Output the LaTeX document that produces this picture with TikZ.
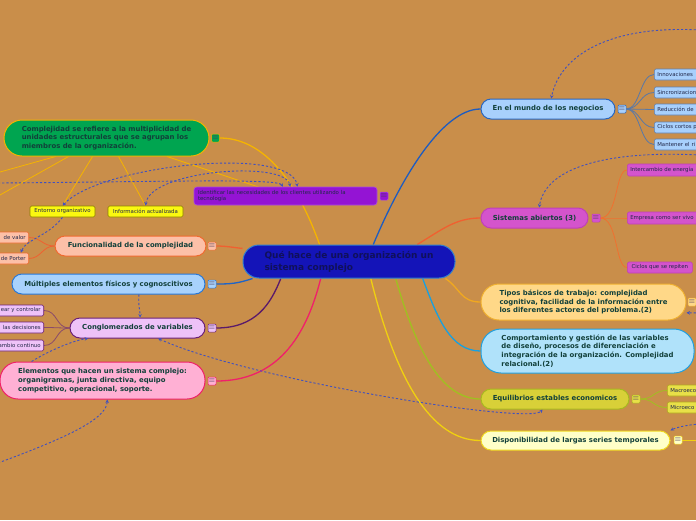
\documentclass[tikz,border=0pt]{standalone}
\usepackage{fontspec}
\setmainfont{DejaVu Sans}
\usetikzlibrary{arrows.meta}
\pgfdeclarelayer{bgl}
\pgfdeclarelayer{lnl}
\pgfsetlayers{bgl,lnl,main}
\definecolor{bg}{HTML}{C98E4A}
\definecolor{txt}{HTML}{12403A}
\definecolor{stxt}{HTML}{22284A}
\definecolor{ctxt}{HTML}{10105A}
\definecolor{icontxt}{HTML}{4A3A5A}
\definecolor{cF}{HTML}{1414B8}
\definecolor{cD}{HTML}{2F7FD0}
\definecolor{gF}{HTML}{00A550}
\definecolor{gD}{HTML}{F2B400}
\definecolor{gL}{HTML}{F5B400}
\definecolor{yF}{HTML}{FAF810}
\definecolor{yD}{HTML}{8C8000}
\definecolor{pF}{HTML}{9414D4}
\definecolor{pD}{HTML}{A848E0}
\definecolor{fnF}{HTML}{FCC0A8}
\definecolor{fnD}{HTML}{F06A30}
\definecolor{fnL}{HTML}{F06030}
\definecolor{muF}{HTML}{A8D2FC}
\definecolor{muD}{HTML}{2878D8}
\definecolor{muL}{HTML}{1E64C8}
\definecolor{coF}{HTML}{EEC2F8}
\definecolor{coD}{HTML}{6A2078}
\definecolor{coL}{HTML}{5A1A6A}
\definecolor{coC}{HTML}{8A4A6A}
\definecolor{elF}{HTML}{FFB0D4}
\definecolor{elD}{HTML}{F02068}
\definecolor{elL}{HTML}{F0206A}
\definecolor{mnF}{HTML}{A8D0FC}
\definecolor{mnD}{HTML}{2866C0}
\definecolor{mnL}{HTML}{1E5CC0}
\definecolor{mnC}{HTML}{5878A8}
\definecolor{mnS}{HTML}{6080B0}
\definecolor{saF}{HTML}{D454CC}
\definecolor{saD}{HTML}{C040B8}
\definecolor{saL}{HTML}{F06030}
\definecolor{saC}{HTML}{F07030}
\definecolor{tiF}{HTML}{FFD888}
\definecolor{tiD}{HTML}{F0B030}
\definecolor{tiL}{HTML}{F0A820}
\definecolor{cmF}{HTML}{B0E2FA}
\definecolor{cmD}{HTML}{20A0E0}
\definecolor{cmL}{HTML}{18A0E0}
\definecolor{eqF}{HTML}{D8D038}
\definecolor{eqD}{HTML}{A8B820}
\definecolor{eqL}{HTML}{A0C020}
\definecolor{eqS}{HTML}{E8E048}
\definecolor{eqSD}{HTML}{B0A820}
\definecolor{diF}{HTML}{FFFFC8}
\definecolor{diD}{HTML}{F0D820}
\definecolor{diL}{HTML}{F0D010}
\definecolor{dsh}{HTML}{4050C0}
\begin{document}
\begin{tikzpicture}[x=1pt,y=-1pt,
  base/.style={font=\bfseries\fontsize{6.9}{8.7}\selectfont, text=txt, inner sep=0pt, line width=1pt, align=left, rounded corners=10pt},
  small/.style={font=\fontsize{5.4}{6.6}\selectfont, text=stxt, inner sep=0pt, inner xsep=3pt, minimum height=11pt, line width=0.6pt, rounded corners=1.5pt},
  lcut/.style={small, anchor=east, text width=50pt, align=right},
  rcut/.style={small, anchor=west, text width=70pt, align=left},
  icon/.style={minimum size=8pt, inner sep=0pt, rounded corners=1pt, line width=0.5pt, font=\fontsize{8.5}{8}\selectfont, text=icontxt},
  br/.style={line width=1.3pt},
  ch/.style={line width=0.8pt},
  rel/.style={draw=dsh, line width=0.9pt, dash pattern=on 2.2pt off 2pt, arrows={-Stealth[length=3.5pt,width=3.5pt]}},
  relb/.style={rel, arrows={Stealth[length=3.5pt,width=3.5pt]-Stealth[length=3.5pt,width=3.5pt]}}
]
\useasboundingbox (0,0) rectangle (696,520);
\begin{pgfonlayer}{bgl}
\fill[bg] (0,0) rectangle (696,520);
\end{pgfonlayer}
\clip (0,0) rectangle (696,520);

% central
\node[base, font=\bfseries\fontsize{9}{12}\selectfont, text=ctxt, fill=cF, draw=cD, minimum width=212pt, minimum height=33pt, rounded corners=16pt] (c) at (349,261.5) {Qué hace de una organización un\\sistema complejo};

% left side
\node[base, fill=gF, draw=gD, minimum width=205pt, minimum height=36pt, rounded corners=18pt] (g) at (106.5,138) {Complejidad se refiere a la multiplicidad de\\unidades estructurales que se agrupan los\\miembros de la organización.};
\node[icon, fill=gF, draw=gD] (gI) at (215.5,138) {$\equiv$};
\node[small, fill=yF, draw=yD, minimum width=65pt] (ent) at (62.5,211.5) {Entorno organizativo};
\node[small, fill=yF, draw=yD, minimum width=75pt] (inf) at (145.5,211.5) {Información actualizada};
\node[small, fill=pF, draw=pD, minimum width=183pt, minimum height=18pt, align=left, text width=175pt, rounded corners=3pt] (pur) at (285.5,196) {Identificar las necesidades de los clientes utilizando la\\tecnología};
\node[icon, fill=pF, draw=pD] (purI) at (384,196) {$\equiv$};
\coordinate (lo1) at (0,172);
\coordinate (lo2) at (0,195);

\node[base, fill=fnF, draw=fnD, minimum width=151pt, minimum height=20pt] (fun) at (130.5,246) {Funcionalidad de la complejidad};
\node[icon, fill=fnF, draw=fnD] (funI) at (212,246) {$\equiv$};
\node[lcut, fill=fnF, draw=fnD] (f1) at (29,237.5) {de valor};
\node[lcut, fill=fnF, draw=fnD] (f2) at (29,258.5) {de Porter};

\node[base, fill=muF, draw=muD, minimum width=193pt, minimum height=20pt] (mul) at (108.5,284) {Múltiples elementos físicos y cognoscitivos};
\node[icon, fill=muF, draw=muD] (mulI) at (212,284) {$\equiv$};

\node[base, fill=coF, draw=coD, minimum width=135pt, minimum height=20pt] (cong) at (137.5,328) {Conglomerados de variables};
\node[icon, fill=coF, draw=coD] (congI) at (212,328) {$\equiv$};
\node[lcut, fill=coF, draw=coD] (k1) at (44,310.5) {ear y controlar};
\node[lcut, fill=coF, draw=coD] (k2) at (44,327.5) {las decisiones};
\node[lcut, fill=coF, draw=coD] (k3) at (44,345.5) {ambio continuo};

\node[base, fill=elF, draw=elD, minimum width=205pt, minimum height=37pt, rounded corners=18pt] (ele) at (102.5,380.5) {Elementos que hacen un sistema complejo:\\organigramas, junta directiva, equipo\\competitivo, operacional, soporte.};
\node[icon, fill=elF, draw=elD] (eleI) at (212,381) {$\equiv$};

% right side
\node[base, fill=mnF, draw=mnD, minimum width=134pt, minimum height=20pt] (mun) at (548,109) {En el mundo de los negocios};
\node[icon, fill=mnF, draw=mnD] (munI) at (622,109) {$\equiv$};
\node[rcut, fill=mnF, draw=mnS] (m1) at (654,74.5) {Innovaciones};
\node[rcut, fill=mnF, draw=mnS] (m2) at (654,92.5) {Sincronizacion};
\node[rcut, fill=mnF, draw=mnS] (m3) at (654,109.5) {Reducción de};
\node[rcut, fill=mnF, draw=mnS] (m4) at (654,127.5) {Ciclos cortos p};
\node[rcut, fill=mnF, draw=mnS] (m5) at (654,144.5) {Mantener el ri};

\node[base, fill=saF, draw=saD, minimum width=107pt, minimum height=20pt] (sis) at (534.5,218) {Sistemas abiertos (3)};
\node[icon, fill=saF, draw=saD] (sisI) at (596,218) {$\equiv$};
\node[rcut, fill=saF, draw=saD, minimum height=12pt] (s1) at (627,170) {Intercambio de energía};
\node[rcut, fill=saF, draw=saD, minimum height=12pt] (s2) at (627,218) {Empresa como ser vivo};
\node[small, anchor=west, fill=saF, draw=saD, minimum width=65pt] (s3) at (627,267.5) {Ciclos que se repiten};

\node[base, fill=tiF, draw=tiD, minimum width=205pt, minimum height=36pt, rounded corners=18pt] (tip) at (583.5,302) {Tipos básicos de trabajo: complejidad\\cognitiva, facilidad de la información entre\\los diferentes actores del problema.(2)};
\node[icon, fill=tiF, draw=tiD] (tipI) at (692,302) {$\equiv$};

\node[base, fill=cmF, draw=cmD, minimum width=213pt, minimum height=44pt, rounded corners=20pt] (com) at (587.5,351) {Comportamiento y gestión de las variables\\de diseño, procesos de diferenciación e\\integración de la organización. Complejidad\\relacional.(2)};

\node[base, fill=eqF, draw=eqD, minimum width=148pt, minimum height=20pt] (equ) at (555,399) {Equilibrios estables economicos};
\node[icon, fill=eqS, draw=eqD] (equI) at (636,399) {$\equiv$};
\node[rcut, fill=eqS, draw=eqSD] (q1) at (667,390.5) {Macroeco};
\node[rcut, fill=eqS, draw=eqSD] (q2) at (667,407.5) {Microeco};

\node[base, fill=diF, draw=diD, minimum width=189pt, minimum height=19pt] (dis) at (575.5,440.5) {Disponibilidad de largas series temporales};
\node[icon, fill=diF, draw=diD] (disI) at (678,440) {$\equiv$};
\coordinate (dr) at (700,440);

% free ends of relations
\coordinate (lft) at (-2,183);
\coordinate (bl) at (-2,463);
\coordinate (tr1) at (700,30);
\coordinate (tr2) at (700,155);
\coordinate (tr3) at (700,313);
\coordinate (tr4) at (700,424);

\begin{pgfonlayer}{lnl}
% main branches
\draw[br, gL] (c.150) .. controls +(-25,-70) and +(40,0) .. (gI.east);
\draw[br, fnL] (c.173) .. controls +(-10,-1) and +(10,0) .. (funI.east);
\draw[br, muL] (c.190) .. controls +(-15,5) and +(15,0) .. (mulI.east);
\draw[br, coL] (c.194) .. controls +(-10,25) and +(40,0) .. (congI.east);
\draw[br, elL] (c.211) .. controls +(-15,60) and +(60,0) .. (eleI.east);
\draw[br, mnL] (c.35) .. controls +(25,-60) and +(-40,0) .. (mun.west);
\draw[br, saL] (c.14) .. controls +(25,-15) and +(-25,0) .. (sis.west);
\draw[br, tiL] (c.350) .. controls +(15,10) and +(-20,0) .. (tip.west);
\draw[br, cmL] (c.347) .. controls +(15,40) and +(-30,0) .. (com.west);
\draw[br, eqL] (c.340) .. controls +(20,70) and +(-40,0) .. (equ.west);
\draw[br, diL] (c.322) .. controls +(25,100) and +(-50,0) .. (dis.west);
% children
\draw[ch, gL] (g.233) -- (ent.north);
\draw[ch, gL] (g.303) -- (inf.north);
\draw[ch, gL] (g.200) -- (lo1);
\draw[ch, gL] (g.206) -- (lo2);
\draw[ch, gL] (g.343) -- (pur.center);
\foreach \k in {f1,f2} \draw[ch, fnL] (fun.west) .. controls +(-12,0) and +(12,0) .. (\k.east);
\foreach \k in {k1,k2,k3} \draw[ch, coC] (cong.west) .. controls +(-14,0) and +(14,0) .. (\k.east);
\foreach \k in {m1,m2,m3,m4,m5} \draw[ch, mnC] (munI.east) .. controls +(14,0) and +(-14,0) .. (\k.west);
\foreach \k in {s1,s2,s3} \draw[ch, saC] (sisI.east) .. controls +(18,0) and +(-12,0) .. (\k.west);
\foreach \k in {q1,q2} \draw[ch, eqL] (equI.east) .. controls +(14,0) and +(-14,0) .. (\k.west);
\draw[ch, diL] (disI.east) -- (dr);
\end{pgfonlayer}

% relations
\draw[rel] (lft) .. controls (150,182) and (278,178) .. (pur.106);
\draw[relb] (ent.north) .. controls (100,165) and (290,145) .. (pur.38);
\draw[relb] (inf.north) .. controls (150,170) and (285,160) .. (pur.63);
\draw[rel] (ent.south) .. controls (50,235) and (25,240) .. (f2.16);
\draw[rel] (mul.341) .. controls (138,305) and (140,310) .. (cong.76);
\draw[rel] (ele.165) .. controls (50,350) and (75,340) .. (cong.192);
\draw[relb] (cong.333) .. controls (250,380) and (530,425) .. (equ.220);
\draw[rel] (bl) .. controls (60,440) and (107,420) .. (ele.284);
\draw[rel] (tr1) .. controls (610,25) and (560,55) .. (mun.73);
\draw[rel] (tr2) .. controls (600,150) and (545,170) .. (sis.66);
\draw[rel] (tr3) -- (tip.354);
\draw[rel] (tr4) .. controls (685,425) and (675,428) .. (dis.6);
\end{tikzpicture}
\end{document}
